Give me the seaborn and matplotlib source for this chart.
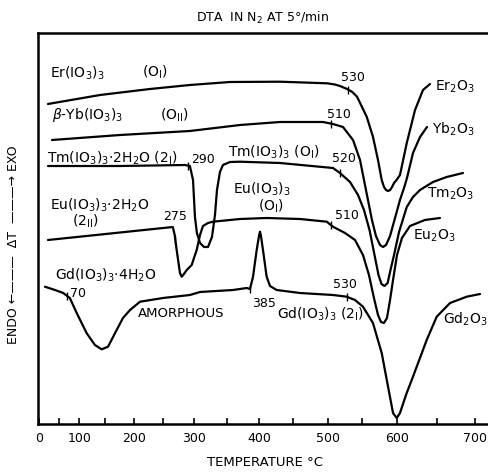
import numpy as np
import pandas as pd
import matplotlib
matplotlib.use("Agg")
import matplotlib.pyplot as plt
import seaborn as sns

# ---------------- data (temperature in degC, delta-T in arbitrary units) -------------
er_T = [22.8, 139.8, 228, 293, 355, 431, 498.2, 510, 517.5, 528, 536, 543, 557, 565.8, 572.9,
        578.1, 581.3, 584.2, 587, 590, 592.6, 595.4, 599, 603.4, 612, 622.5, 632.6, 641.5]
er_dT = [320, 329, 335, 339, 342, 342.3, 340.7, 339.5, 338, 335, 332, 327.3, 307.3, 287.3, 264,
         244, 237, 234, 233, 234, 237, 241, 244, 249, 281, 314, 334, 340]

yb_T = [33, 176, 293, 370.4, 431, 492.5, 507, 522, 537, 547.5, 553.2, 558.8, 564.4, 570,
        575.7, 579.9, 584.2, 589.8, 596.8, 603.4, 608.5, 612.3, 619.9, 628.8, 637.7]
yb_dT = [284, 289, 293, 299, 302, 302, 300, 297, 284, 264, 244, 224, 204, 188,
         179, 177, 179, 188, 206, 224, 236, 246, 271, 287, 297]

tm_T = [22.8, 176, 285, 293, 298, 301, 304, 308.8, 315, 321.1, 327.3, 331.9, 335, 339.6,
        344.2, 355, 370.4, 431, 507, 517.5, 532.5, 544.5, 553.2, 561, 568, 573.6, 577.8,
        582, 586.4, 589.8, 595.4, 602.2, 612, 619.9, 628.8, 645.3, 663, 684.3]
tm_dT = [258, 258, 259, 258, 244, 207, 191, 181, 177, 177, 187, 209, 234, 252,
         259, 262, 262.3, 261, 256, 251, 242, 229, 214, 194, 169, 149, 140,
         138, 141, 152, 169, 192, 217, 227, 234, 242, 247, 251]

eu_T = [22.8, 266, 269, 272.1, 277.3, 280, 283.6, 288, 295.9, 299.5, 303.7, 308.8, 313.4,
        321.1, 328.8, 370.4, 411, 460.2, 497.8, 507, 525, 540, 551.8, 560.2, 567.2, 572.9,
        577.1, 581.3, 585.5, 589.8, 594, 599.6, 605.9, 616.1, 635, 654.3]
eu_dT = [184, 197, 189, 174, 151, 147.3, 150, 154, 159, 166, 174, 189, 198,
         201, 202.3, 205, 206, 205, 202.3, 197.3, 191, 184, 169, 149, 126, 109,
         102, 101, 106, 124, 144, 169, 186, 198, 204, 206]

gd_T = [15, 40.6, 61, 77, 93.7, 114, 130, 143, 154.8, 170, 181.1, 193.5, 210.9, 250.5,
        293, 308.8, 359.7, 380.7, 385.7, 390.3, 396, 399.5, 401, 402.5, 405.5, 411, 416,
        426, 460.2, 507, 527.5, 540, 551.8, 565.8, 578.1, 587, 594, 599.2, 603.4, 611,
        619.9, 637.3, 650, 667.4, 689.2, 706.6]
gd_dT = [137.3, 134, 131, 126, 111, 91, 79, 74.7, 77.3, 94, 106, 114, 122.3, 126,
         129, 132, 134, 136, 135, 147, 174, 188, 192.3, 188, 174, 147.3, 138,
         134, 131, 129, 127.3, 124, 117.3, 101, 71, 37.3, 11, 6, 11, 29,
         47.3, 84, 107.3, 121, 127.3, 130]

# annotated temperatures marked on the curves
er_mark = [530]
yb_mark = [504]
tm_mark = [290, 518]
eu_mark = [270, 504]
gd_mark = [69, 385, 528]

x_ticks = list(range(0, 701, 100))
x_minor = list(range(0, 701, 50))

# calibration of the (non-linear) temperature axis of the original recorder chart
cal_T = [-50, 0, 50, 100, 150, 200, 250, 300, 350, 400, 450, 500, 550, 600, 650, 700, 800]
cal_u = [19.3, 39, 58.7, 79.3, 105.3, 133.7, 162.7, 194.3, 226.7, 259.3, 292.7, 328.3,
         361.7, 397.3, 436.7, 475, 551.6]


def fwd(t):
    return np.interp(t, cal_T, cal_u)


def inv(u):
    return np.interp(u, cal_u, cal_T)


# ---------------- figure ----------------
sns.set_theme(style="white")
plt.rcParams["font.family"] = ["DejaVu Sans"]
plt.rcParams["mathtext.fontset"] = "dejavusans"

W, H = 488, 473
fig = plt.figure(figsize=(W / 100, H / 100), dpi=100)
fig.patch.set_facecolor("white")
ax = fig.add_axes([38 / W, (H - 424) / H, 450 / W, 391 / H])
ax.set_facecolor("white")
ax.set_xscale("function", functions=(fwd, inv))

curves = [(er_T, er_dT, er_mark), (yb_T, yb_dT, yb_mark), (tm_T, tm_dT, tm_mark),
          (eu_T, eu_dT, eu_mark), (gd_T, gd_dT, gd_mark)]
for T, d, marks in curves:
    sns.lineplot(x=T, y=d, sort=False, estimator=None, color="black", lw=1.6, ax=ax)
    my = np.interp(marks, T, d)
    ax.plot(marks, my, ls="none", marker="|", ms=6, mew=1.0, color="black")

ax.set_xlim(inv(38), inv(488))
ax.set_ylim(0, 391)
ax.set_yticks([])
ax.set_xticks(x_ticks)
ax.set_xticks(x_minor, minor=True)
ax.set_xticklabels([str(v) for v in x_ticks], fontsize=9)
ax.tick_params(axis="x", which="both", direction="in", length=4, width=1.2,
               bottom=True, top=False, pad=6, colors="black")
for s in ["left", "bottom", "top"]:
    ax.spines[s].set_visible(True)
    ax.spines[s].set_color("black")
    ax.spines[s].set_linewidth(1.8)
ax.spines["right"].set_visible(False)
ax.set_xlabel("")
ax.set_ylabel("")


def P(px, py):
    return px / W, 1 - py / H


def txt(px, py, s, size=10, **kw):
    fig.text(*P(px, py), s, fontsize=size, ha=kw.pop("ha", "left"), va=kw.pop("va", "center"),
             color="black", **kw)


txt(263, 18, "DTA  IN N$_2$ AT 5°/min", size=9, ha="center")
txt(265, 462, "TEMPERATURE °C", size=9.5, ha="center")
txt(14, 245, "ENDO ←———  ΔT  ———→ EXO", size=9, ha="center", rotation=90)

txt(50, 73, "Er(IO$_3$)$_3$")
txt(142, 72, "(O$_{\\rm I}$)")
txt(341, 77, "530", size=9)
txt(52, 115, "$\\beta$-Yb(IO$_3$)$_3$")
txt(160, 115, "(O$_{\\rm II}$)")
txt(327, 114, "510", size=9)
txt(47, 158, "Tm(IO$_3$)$_3$·2H$_2$O (2$_{\\rm I}$)")
txt(191, 159, "290", size=9)
txt(228, 152, "Tm(IO$_3$)$_3$ (O$_{\\rm I}$)")
txt(332, 158, "520", size=9)
txt(435, 87, "Er$_2$O$_3$")
txt(432, 129, "Yb$_2$O$_3$")
txt(427, 194, "Tm$_2$O$_3$")
txt(413, 236, "Eu$_2$O$_3$")
txt(50, 205, "Eu(IO$_3$)$_3$·2H$_2$O")
txt(72, 221, "(2$_{\\rm II}$)")
txt(163, 216, "275", size=9)
txt(233, 189, "Eu(IO$_3$)$_3$")
txt(258, 206, "(O$_{\\rm I}$)")
txt(335, 215, "510", size=9)
txt(55, 275, "Gd(IO$_3$)$_3$·4H$_2$O")
txt(70, 293, "70", size=9)
txt(138, 313, "AMORPHOUS", size=9.5)
txt(252, 303, "385", size=9)
txt(333, 284, "530", size=9)
txt(277, 314, "Gd(IO$_3$)$_3$ (2$_{\\rm I}$)")
txt(443, 319, "Gd$_2$O$_3$")

fig.savefig("out.png", dpi=100, facecolor="white")
